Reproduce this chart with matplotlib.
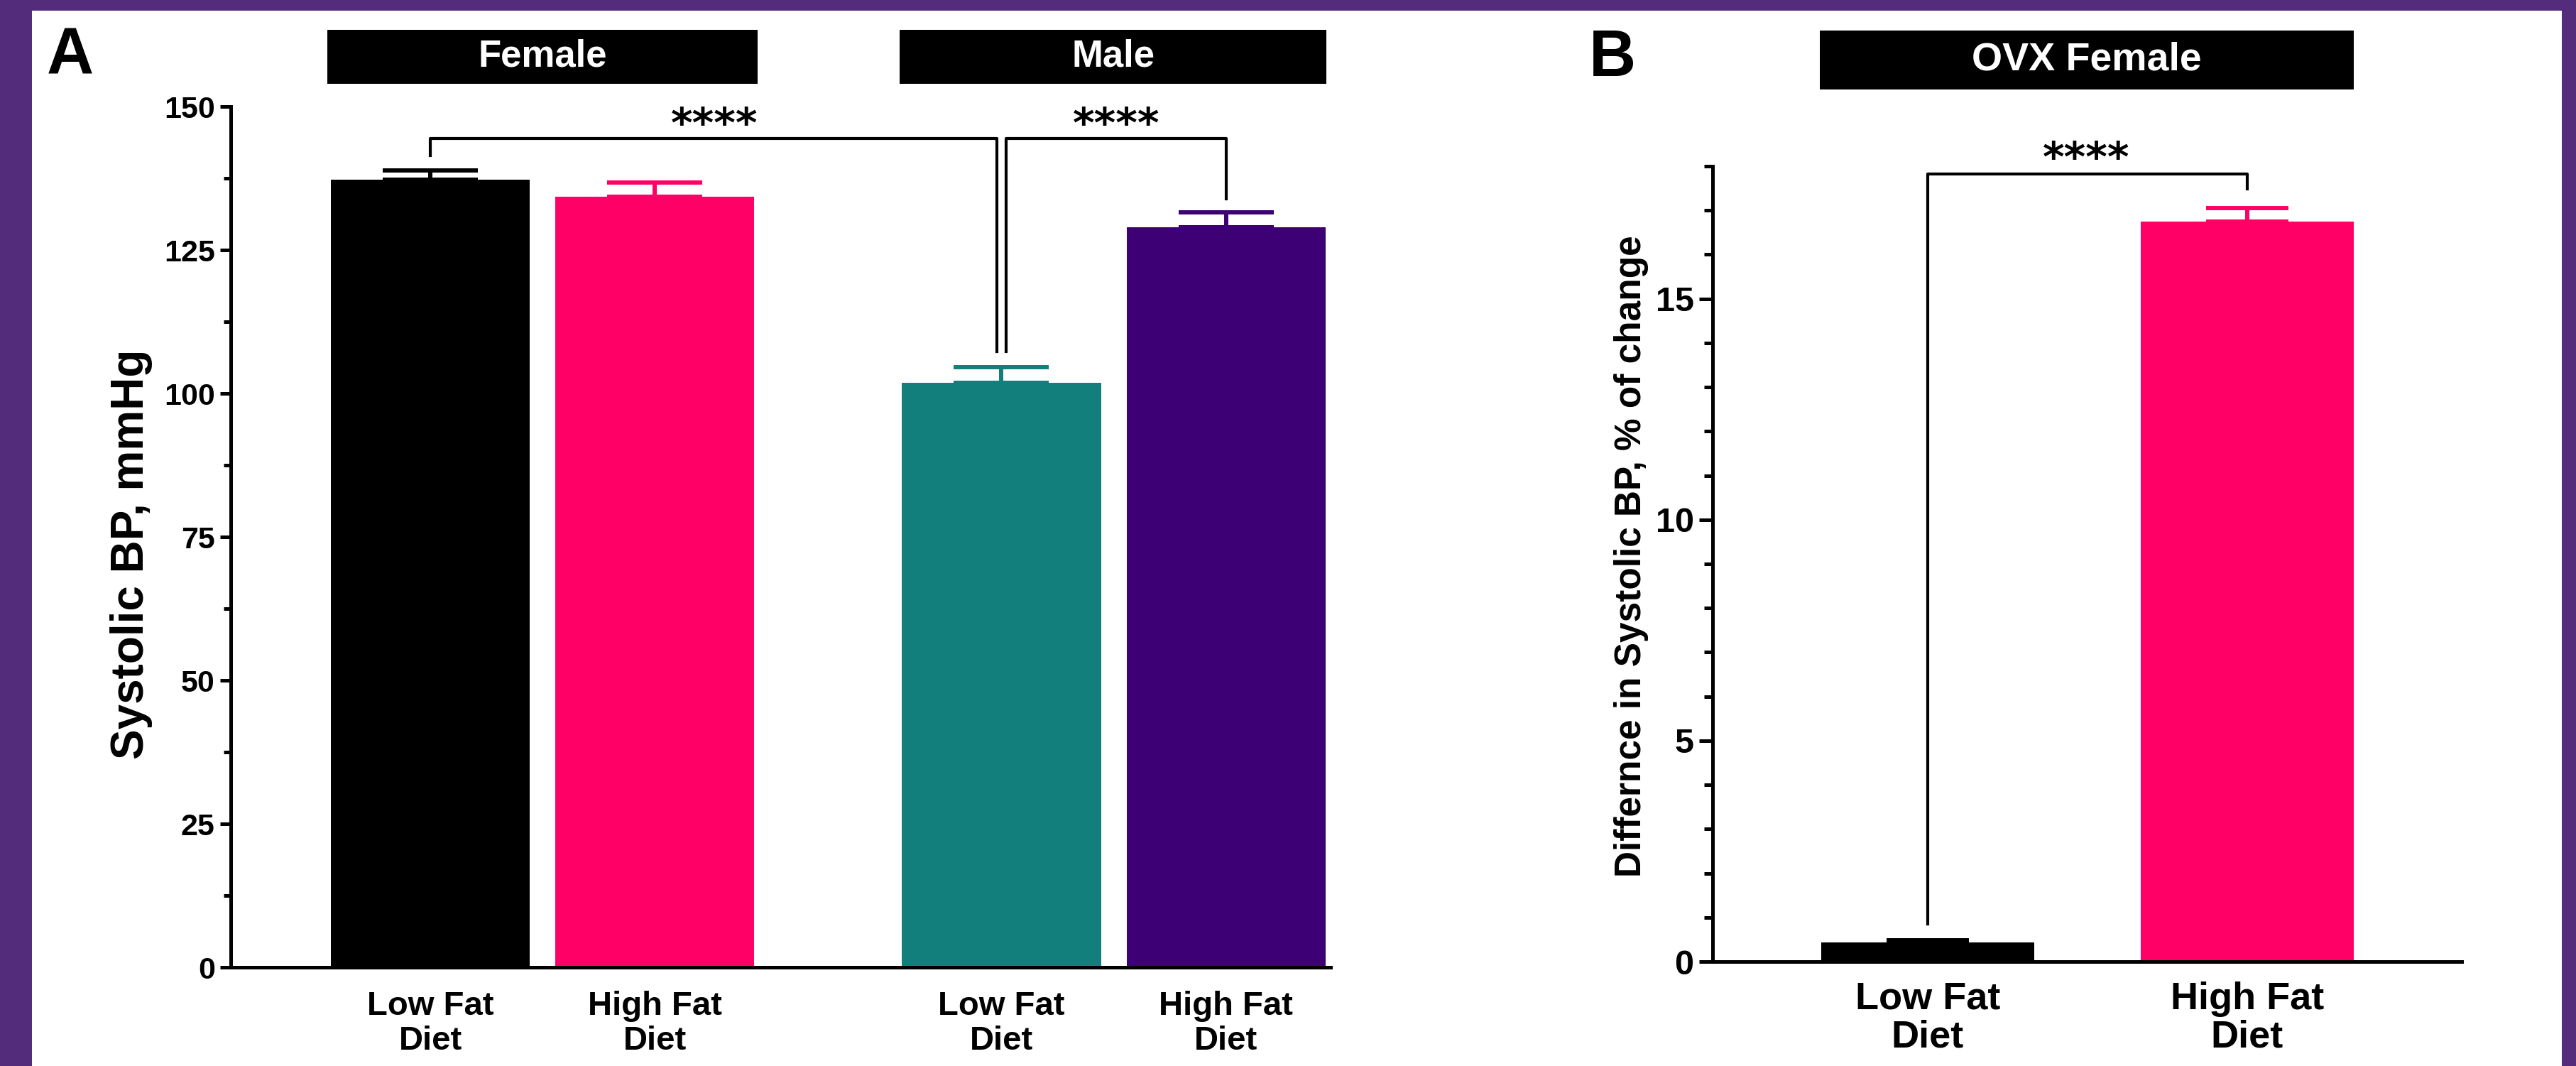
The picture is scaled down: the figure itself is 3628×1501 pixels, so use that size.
import matplotlib
matplotlib.use("Agg")
import matplotlib.pyplot as plt
from matplotlib.patches import Rectangle
import matplotlib.transforms as mtrans
import numpy as np

plt.rcParams['font.family'] = ['Liberation Sans', 'DejaVu Sans']
plt.rcParams['font.weight'] = 'bold'

# ---------------- data ----------------
a_labels = ["Low Fat\nDiet", "High Fat\nDiet", "Low Fat\nDiet", "High Fat\nDiet"]
a_means = [137.3, 134.3, 101.9, 128.9]
a_errs = [1.6, 2.5, 2.7, 2.6]
a_groups = ["Female", "Male"]
a_ylabel = "Systolic BP, mmHg"
a_yticks = [0, 25, 50, 75, 100, 125, 150]

b_labels = ["Low Fat\nDiet", "High Fat\nDiet"]
b_means = [0.43, 16.75]
b_errs = [0.05, 0.3]
b_group = "OVX Female"
b_ylabel = "Differnce in Systolic BP, % of change"
b_yticks = [0, 5, 10, 15]

sig_text = "****"

# ---------------- style ----------------
BLACK = "#000000"
PINK = "#FF0066"
TEAL = "#127F7C"
INDIGO = "#3D0075"
BORDER = "#532C7C"
a_colors = [BLACK, PINK, TEAL, INDIGO]
b_colors = [BLACK, PINK]
STAR_FONT = dict(family=['DejaVu Sans'], fontsize=42, fontweight="bold")

W, H = 3628, 1501
fig = plt.figure(figsize=(W / 100, H / 100), dpi=100)
fig.patch.set_facecolor(BORDER)
fig.patches.append(Rectangle((45 / W, 0), (W - 45 - 20) / W, (H - 15) / H,
                             transform=fig.transFigure, facecolor="white",
                             edgecolor="none", zorder=-10))

def fx(px):
    return px / W

def fy(py):
    return 1 - py / H

def style_axis(ax, lw=3.6):
    for s in ["top", "right"]:
        ax.spines[s].set_visible(False)
    for s in ["left", "bottom"]:
        ax.spines[s].set_linewidth(lw)
    ax.tick_params(axis="y", which="major", length=11, width=lw, pad=5)
    ax.tick_params(axis="y", which="minor", length=7, width=lw)
    ax.tick_params(axis="x", length=0)

# ---------------- panel A ----------------
axA = fig.add_axes([fx(325), fy(1362), fx(1874) - fx(325), fy(150) - fy(1362)])
xa = np.array([0, 1, 2.544, 3.544])
wA = 0.886
axA.bar(xa, a_means, width=wA, color=a_colors, zorder=2)
for x, m, e, c in zip(xa, a_means, a_errs, a_colors):
    axA.errorbar(x, m, yerr=[[0], [e]], color=c, capsize=48, elinewidth=4.3,
                 capthick=4.3, zorder=3)
axA.set_xlim(-0.889, 4.01)
axA.set_ylim(0, 150)
axA.set_yticks(a_yticks)
axA.set_yticks(np.arange(12.5, 150, 25), minor=True)
axA.set_xticks(xa)
axA.set_xticklabels(a_labels, fontsize=34, linespacing=1.15)
axA.tick_params(axis="x", pad=24)
axA.tick_params(axis="y", labelsize=31)
style_axis(axA)
axA.set_ylabel(a_ylabel, fontsize=46, fontweight="bold")
axA.yaxis.set_label_coords(-0.071, 0.48)

# brackets A
bl = 3.0
axA.plot([xa[0], xa[0], xa[2] - 0.022, xa[2] - 0.022], [141.4, 144.4, 144.4, 107.3],
         color="black", lw=bl, zorder=4, clip_on=False)
axA.plot([xa[2] + 0.022, xa[2] + 0.022, xa[3], xa[3]], [107.3, 144.4, 144.4, 133.9],
         color="black", lw=bl, zorder=4, clip_on=False)
axA.text(1.266, 144.7, sig_text, ha="center", va="baseline", **STAR_FONT)
axA.text(3.054, 144.7, sig_text, ha="center", va="baseline", **STAR_FONT)

# headers A
trA = mtrans.blended_transform_factory(axA.transData, fig.transFigure)
for (x0, x1), g in zip([(xa[0] - wA / 2 - 0.015, xa[1] + wA / 2 + 0.015),
                        (xa[2] - wA / 2 - 0.01, xa[3] + wA / 2 + 0.005)], a_groups):
    axA.add_patch(Rectangle((x0, fy(118)), x1 - x0, fy(42) - fy(118), transform=trA,
                            facecolor="black", edgecolor="none", clip_on=False))
    axA.text((x0 + x1) / 2, (fy(118) + fy(42)) / 2, g, transform=trA, color="white",
             ha="center", va="center", fontsize=38, fontweight="bold")

fig.text(fx(66), fy(36), "A", fontsize=66, fontweight="bold", va="top", ha="left")

# ---------------- panel B ----------------
axB = fig.add_axes([fx(2412), fy(1354), fx(3467) - fx(2412), fy(234) - fy(1354)])
xb = np.array([0, 1])
wB = 0.667
axB.bar(xb, b_means, width=wB, color=b_colors, zorder=2)
for x, m, e, c in zip(xb, b_means, b_errs, b_colors):
    axB.errorbar(x, m, yerr=[[0], [e]], color=c, capsize=42, elinewidth=4.3,
                 capthick=4.3, zorder=3)
axB.set_xlim(-0.673, 1.671)
axB.set_ylim(0, 18)
axB.set_yticks(b_yticks)
axB.set_yticks([v for v in range(1, 19) if v % 5 != 0], minor=True)
axB.set_xticks(xb)
axB.set_xticklabels(b_labels, fontsize=39, linespacing=1.1)
axB.tick_params(axis="x", pad=20)
axB.tick_params(axis="y", labelsize=35)
style_axis(axB)
axB.tick_params(axis="y", which="major", length=14)
axB.tick_params(axis="y", which="minor", length=9)
axB.set_ylabel(b_ylabel, fontsize=37, fontweight="bold")
axB.yaxis.set_label_coords(-0.085, 0.51)

axB.plot([xb[0], xb[0], xb[1], xb[1]], [0.85, 17.83, 17.83, 17.49],
         color="black", lw=3.0, zorder=4, clip_on=False)
axB.text(0.496, 17.88, sig_text, ha="center", va="baseline", **STAR_FONT)

trB = mtrans.blended_transform_factory(axB.transData, fig.transFigure)
x0, x1 = xb[0] - wB / 2 - 0.005, xb[1] + wB / 2
axB.add_patch(Rectangle((x0, fy(126)), x1 - x0, fy(43) - fy(126), transform=trB,
                        facecolor="black", edgecolor="none", clip_on=False))
axB.text((x0 + x1) / 2, (fy(126) + fy(43)) / 2, b_group, transform=trB, color="white",
         ha="center", va="center", fontsize=40, fontweight="bold")

fig.text(fx(2238), fy(40), "B", fontsize=66, fontweight="bold", va="top", ha="left")

fig.savefig("out.png", dpi=100, facecolor=fig.get_facecolor())
